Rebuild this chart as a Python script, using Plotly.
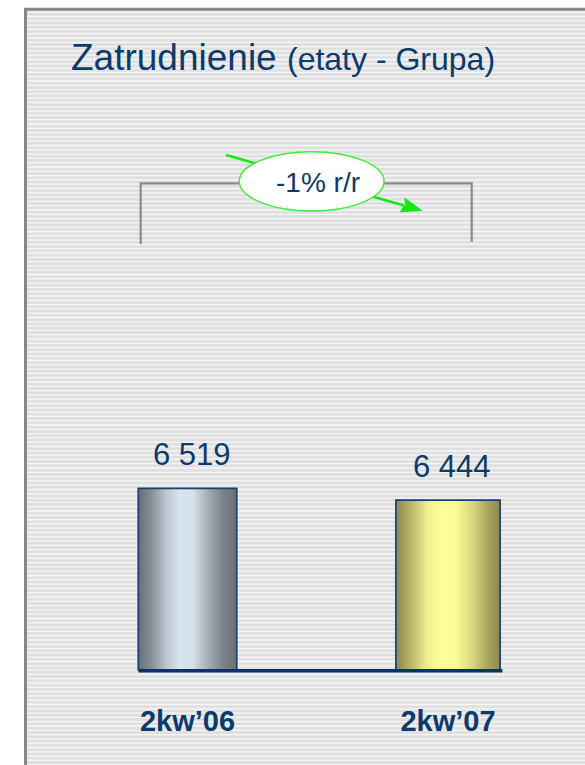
import numpy as np
import plotly.graph_objects as go

# ---------------- data ----------------
categories = ["2kw’06", "2kw’07"]
values = [6519, 6444]
value_labels = ["6 519", "6 444"]
change_label = "-1% r/r"
title_main = "Zatrudnienie"
title_sub = "(etaty - Grupa)"

# ---------------- styling ----------------
W, H = 585, 765
M_L, M_R, M_T, M_B = 0, 0, 140, 88
PLOT_H = H - M_T - M_B
NAVY = "#0b3a6d"
FONT = "Liberation Sans, Arial, sans-serif"
Y_BASE = 5350          # axis floor where the bars start
Y_RANGE = [5310, 5310 + PLOT_H * 6.41]
X_RANGE = [-0.7198, -0.7198 + W / 260.5]
half_widths = [0.189, 0.2]
bar_scales = [
    [[0, "#6a6e75"], [0.12, "#858a92"], [0.28, "#b9c4ce"], [0.42, "#d9e5ee"],
     [0.56, "#d3dfe9"], [0.72, "#a2a9b1"], [0.86, "#7d8289"], [1, "#6b6f75"]],
    [[0, "#8b894f"], [0.14, "#b8b666"], [0.3, "#eeee90"], [0.45, "#ffff99"],
     [0.58, "#fbfb95"], [0.74, "#d6d57d"], [0.88, "#a9a75e"], [1, "#8a8850"]],
]


def px(x):
    return (x - M_L) / (W - M_L - M_R)


def py(y):
    return (H - M_B - y) / PLOT_H


fig = go.Figure()

for i, (v, hw, cs) in enumerate(zip(values, half_widths, bar_scales)):
    fig.add_trace(go.Scatter(
        x=[i - hw, i - hw, i + hw, i + hw, i - hw],
        y=[Y_BASE, v, v, Y_BASE, Y_BASE],
        mode="lines", fill="toself",
        fillgradient=dict(type="horizontal", colorscale=cs),
        line=dict(color="#17406f", width=1.7),
        hoverinfo="skip", showlegend=False,
    ))
    fig.add_annotation(
        x=i, y=v, xref="x", yref="y", text=value_labels[i], showarrow=False,
        yanchor="middle", xanchor="center", yshift=34, xshift=4,
        font=dict(family=FONT, size=31, color=NAVY),
    )

shapes = []
# panel background with border
shapes.append(dict(type="rect", xref="paper", yref="paper",
                   x0=px(25.5), x1=px(620), y0=py(800), y1=py(9.3),
                   fillcolor="#e0e0e0", line=dict(color="#878787", width=3),
                   layer="below"))
for yp in np.arange(12.2, H, 4.3):
    shapes.append(dict(type="line", xref="paper", yref="paper",
                       x0=px(27.2), x1=px(W + 5), y0=py(yp), y1=py(yp),
                       line=dict(color="#f7f7f7", width=1.3), layer="below"))
# baseline
shapes.append(dict(type="line", xref="x", yref="y", x0=-0.187, x1=1.209,
                   y0=Y_BASE, y1=Y_BASE, line=dict(color="#0a3366", width=3.5),
                   layer="above"))
# bracket
shapes.append(dict(type="path", xref="paper", yref="paper",
                   path=f"M {px(140.7)},{py(244)} L {px(140.7)},{py(183.3)} "
                        f"L {px(471.7)},{py(183.3)} L {px(471.7)},{py(241.7)}",
                   line=dict(color="#8a8a8a", width=2.2), layer="above"))
# green arrow
shapes.append(dict(type="line", xref="paper", yref="paper",
                   x0=px(226), y0=py(155), x1=px(404), y1=py(205.5),
                   line=dict(color="#12e812", width=2.4), layer="above"))
shapes.append(dict(type="path", xref="paper", yref="paper",
                   path=f"M {px(421.7)},{py(210.5)} L {px(400.2)},{py(211.8)} "
                        f"L {px(405.5)},{py(204.8)} L {px(404.8)},{py(198.2)} Z",
                   fillcolor="#12e812", line=dict(color="#12e812", width=1),
                   layer="above"))
# ellipse
shapes.append(dict(type="circle", xref="paper", yref="paper",
                   x0=px(239.3), x1=px(384), y0=py(211), y1=py(151.7),
                   fillcolor="white", line=dict(color="#3ded3d", width=1.4),
                   layer="above"))

fig.add_annotation(x=px(317.6), y=py(182), xref="paper", yref="paper",
                   text=change_label, showarrow=False, xanchor="center", yanchor="middle",
                   font=dict(family=FONT, size=28, color=NAVY))
fig.add_annotation(x=px(69), y=py(57.5), xref="paper", yref="paper",
                   text=f"{title_main} <span style='font-size:32px'>{title_sub}</span>",
                   showarrow=False, xanchor="left", yanchor="middle",
                   font=dict(family=FONT, size=37, color=NAVY))

fig.update_layout(
    width=W, height=H,
    margin=dict(l=M_L, r=M_R, t=M_T, b=M_B, pad=0),
    paper_bgcolor="white", plot_bgcolor="rgba(0,0,0,0)",
    shapes=shapes, showlegend=False,
    xaxis=dict(range=X_RANGE, tickvals=[0, 1], ticktext=categories,
               showgrid=False, zeroline=False, showline=False, ticks="",
               ticklabelstandoff=24,
               tickfont=dict(family=FONT, size=29, color=NAVY, weight="bold"),
               fixedrange=True),
    yaxis=dict(range=Y_RANGE, visible=False, showgrid=False, zeroline=False,
               fixedrange=True),
)

fig.write_html(
    "out.html",
    config={"displayModeBar": False},
    post_script="document.body.style.margin='0';document.body.style.overflow='hidden';",
)
